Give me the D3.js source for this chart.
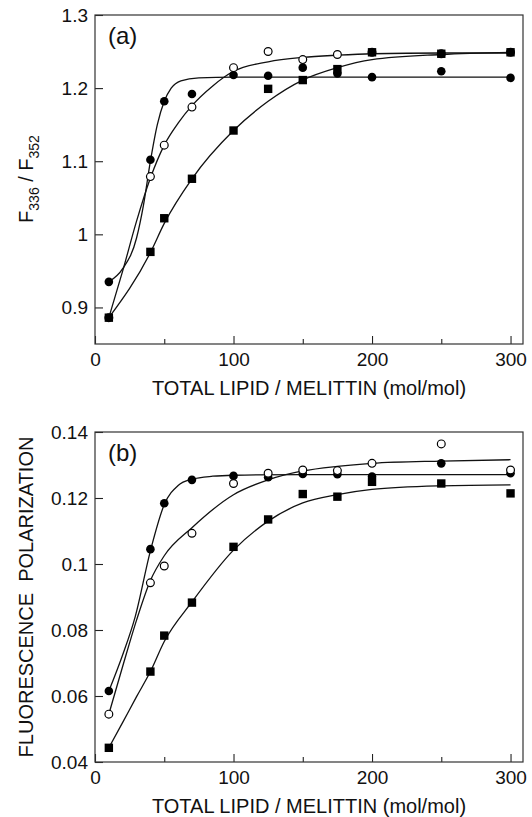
<!DOCTYPE html>
<html>
<head>
<meta charset="utf-8">
<script src="https://cdn.jsdelivr.net/npm/d3@7"></script>
<style>
  html, body { margin: 0; padding: 0; background: #fff; }
  svg { display: block; }
  text { font-family: "Liberation Sans", Arial, Helvetica, sans-serif; fill: #111; }
</style>
</head>
<body>
<svg id="fig" width="532" height="817"></svg>
<script>
// Lipid-to-peptide ratios at which samples were measured
const lipidRatio = [10, 40, 50, 70, 100, 125, 150, 175, 200, 250, 300];

// (a) emission intensity ratio F336/F352
const ratioFilled = [0.935, 1.102, 1.182, 1.192, 1.218, 1.217, 1.228, 1.220, 1.215, 1.223, 1.214];
const ratioOpen   = [0.886, 1.079, 1.122, 1.174, 1.228, 1.250, 1.239, 1.246, 1.249, 1.247, 1.249];
const ratioSquare = [0.886, 0.976, 1.022, 1.076, 1.142, 1.199, 1.211, 1.226, 1.249, 1.247, 1.249];

// (a) fitted binding curves
const fitRatioFilledX = [10, 20, 30, 35, 40, 45, 50, 55, 62, 75, 100, 300];
const fitRatioFilledY = [0.935, 0.953, 0.995, 1.040, 1.100, 1.150, 1.182, 1.200, 1.210, 1.214, 1.215, 1.215];
const fitRatioOpenX   = [10, 20, 30, 40, 50, 60, 70, 85, 100, 125, 150, 175, 200, 250, 300];
const fitRatioOpenY   = [0.886, 0.950, 1.018, 1.077, 1.122, 1.152, 1.176, 1.203, 1.223, 1.236, 1.242, 1.245, 1.247, 1.248, 1.248];
const fitRatioSquareX = [10, 40, 50, 70, 100, 125, 150, 175, 200, 250, 300];
const fitRatioSquareY = [0.886, 0.975, 1.015, 1.076, 1.142, 1.182, 1.211, 1.228, 1.239, 1.246, 1.249];

// (b) fluorescence polarization
const polFilled = [0.0615, 0.1045, 0.1184, 0.1255, 0.1267, 0.1263, 0.1273, 0.1272, 0.1265, 0.1305, 0.1275];
const polOpen   = [0.0545, 0.0943, 0.0994, 0.1093, 0.1244, 0.1275, 0.1285, 0.1283, 0.1305, 0.1364, 0.1285];
const polSquare = [0.0443, 0.0674, 0.0783, 0.0883, 0.1052, 0.1135, 0.1212, 0.1204, 0.1249, 0.1244, 0.1214];

// (b) fitted binding curves
const fitPolFilledX = [10, 20, 29, 40, 50, 60, 70, 85, 100, 150, 300];
const fitPolFilledY = [0.0615, 0.0725, 0.0840, 0.1040, 0.1180, 0.1238, 0.1257, 0.1266, 0.1269, 0.1271, 0.1271];
const fitPolOpenX   = [10, 20, 30, 40, 50, 70, 100, 125, 150, 175, 200, 250, 300];
const fitPolOpenY   = [0.0545, 0.0690, 0.0830, 0.0950, 0.1025, 0.1110, 0.1210, 0.1255, 0.1282, 0.1296, 0.1305, 0.1312, 0.1316];
const fitPolSquareX = [10, 20, 30, 40, 50, 70, 100, 125, 150, 175, 200, 250, 300];
const fitPolSquareY = [0.0443, 0.0520, 0.0598, 0.0674, 0.0765, 0.0885, 0.1042, 0.1130, 0.1185, 0.1210, 0.1226, 0.1237, 0.1240];

// Axis ticks
const xMajorTicks = [0, 100, 200, 300];
const xMinorTicks = [50, 150, 250];
const ratioTicks = [0.9, 1.0, 1.1, 1.2, 1.3];
const ratioTickLabels = ["0.9", "1", "1.1", "1.2", "1.3"];
const polTicks = [0.04, 0.06, 0.08, 0.10, 0.12, 0.14];
const polTickLabels = ["0.04", "0.06", "0.08", "0.1", "0.12", "0.14"];

const xTitle = "TOTAL LIPID / MELITTIN (mol/mol)";

const svg = d3.select("#fig");
const left = 95, right = 523;
const x = d3.scaleLinear().domain([0, 309]).range([left, right]);
const tickFont = 19;

function drawPanel(opt) {
  const y = d3.scaleLinear().domain(opt.yDomain).range([opt.bottom, opt.top]);
  const g = svg.append("g");

  // x ticks (inward), major labelled, minor unlabelled
  const xMajor = d3.axisBottom(x).tickValues(xMajorTicks).tickSizeInner(-8).tickSizeOuter(0)
    .tickPadding(9).tickFormat(d3.format("d"));
  const xMinor = d3.axisBottom(x).tickValues(xMinorTicks).tickSizeInner(-5).tickSizeOuter(0)
    .tickFormat("");
  [xMajor, xMinor].forEach(ax => {
    const a = g.append("g").attr("transform", `translate(0,${opt.bottom})`).call(ax);
    a.select(".domain").remove();
    a.selectAll("line").attr("stroke", "#222").attr("stroke-width", 1.1);
    a.selectAll("text").attr("font-size", tickFont).attr("fill", "#111")
      .attr("font-family", '"Liberation Sans", Arial, sans-serif');
  });

  // y ticks (inward)
  const yAx = d3.axisLeft(y).tickValues(opt.yTicks).tickSizeInner(-8).tickSizeOuter(0)
    .tickPadding(7).tickFormat((d, i) => opt.yTickLabels[i]);
  const ya = g.append("g").attr("transform", `translate(${left},0)`).call(yAx);
  ya.select(".domain").remove();
  ya.selectAll("line").attr("stroke", "#222").attr("stroke-width", 1.1);
  ya.selectAll("text").attr("font-size", tickFont).attr("fill", "#111")
    .attr("font-family", '"Liberation Sans", Arial, sans-serif');

  // frame
  g.append("rect")
    .attr("x", left).attr("y", opt.top)
    .attr("width", right - left).attr("height", opt.bottom - opt.top)
    .attr("fill", "none").attr("stroke", "#333").attr("stroke-width", 1.2);

  // fitted curves
  const line = d3.line().x(d => x(d[0])).y(d => y(d[1])).curve(d3.curveMonotoneX);
  opt.fits.forEach(f => {
    g.append("path")
      .datum(d3.zip(f[0], f[1]))
      .attr("d", line)
      .attr("fill", "none").attr("stroke", "#111").attr("stroke-width", 1.3);
  });

  // data markers: filled circles, open circles, then squares on top
  g.append("g").selectAll("circle")
    .data(d3.zip(lipidRatio, opt.filled)).join("circle")
    .attr("cx", d => x(d[0])).attr("cy", d => y(d[1])).attr("r", 4.3)
    .attr("fill", "#000");
  g.append("g").selectAll("circle")
    .data(d3.zip(lipidRatio, opt.open)).join("circle")
    .attr("cx", d => x(d[0])).attr("cy", d => y(d[1])).attr("r", 3.9)
    .attr("fill", "#fff").attr("stroke", "#000").attr("stroke-width", 1.2);
  const s = 8.4;
  g.append("g").selectAll("rect")
    .data(d3.zip(lipidRatio, opt.square)).join("rect")
    .attr("x", d => x(d[0]) - s / 2).attr("y", d => y(d[1]) - s / 2)
    .attr("width", s).attr("height", s).attr("fill", "#000");

  // panel tag
  g.append("text").attr("x", 108).attr("y", opt.top + 29)
    .attr("font-size", 24).text(opt.tag);

  // x title
  g.append("text").attr("x", (left + right) / 2).attr("y", opt.bottom + 51)
    .attr("text-anchor", "middle").attr("font-size", 20).text(xTitle);

  return { g, y };
}

drawPanel({
  top: 15, bottom: 344, yDomain: [0.85, 1.3],
  yTicks: ratioTicks, yTickLabels: ratioTickLabels,
  filled: ratioFilled, open: ratioOpen, square: ratioSquare,
  fits: [[fitRatioFilledX, fitRatioFilledY], [fitRatioOpenX, fitRatioOpenY], [fitRatioSquareX, fitRatioSquareY]],
  tag: "(a)"
});

drawPanel({
  top: 432, bottom: 762, yDomain: [0.04, 0.14],
  yTicks: polTicks, yTickLabels: polTickLabels,
  filled: polFilled, open: polOpen, square: polSquare,
  fits: [[fitPolFilledX, fitPolFilledY], [fitPolOpenX, fitPolOpenY], [fitPolSquareX, fitPolSquareY]],
  tag: "(b)"
});

// y titles
const ta = svg.append("text")
  .attr("transform", "translate(33,179) rotate(-90)")
  .attr("text-anchor", "middle").attr("font-size", 20);
ta.append("tspan").text("F");
ta.append("tspan").attr("font-size", 14).attr("dy", 6).text("336");
ta.append("tspan").attr("dy", -6).text(" / F");
ta.append("tspan").attr("font-size", 14).attr("dy", 6).text("352");

svg.append("text")
  .attr("transform", "translate(33,597) rotate(-90)")
  .attr("text-anchor", "middle").attr("font-size", 20)
  .attr("xml:space", "preserve").style("white-space", "pre")
  .text("FLUORESCENCE  POLARIZATION");
</script>
</body>
</html>
